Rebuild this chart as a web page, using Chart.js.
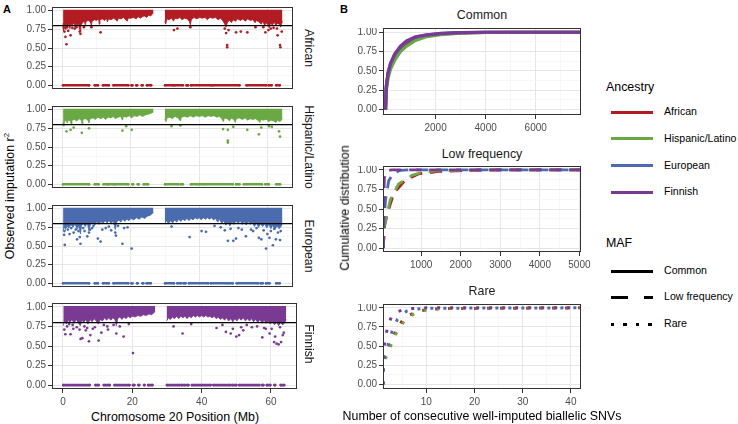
<!DOCTYPE html>
<html>
<head>
<meta charset="utf-8">
<script src="https://cdn.jsdelivr.net/npm/chart.js@4.4.1/dist/chart.umd.min.js"></script>
<style>
body{margin:0;background:#fff;font-family:"Liberation Sans",Arial,sans-serif;}
#fig{position:relative;width:738px;height:424px;overflow:hidden;background:#fff;}
.pan{position:absolute;}
.txt{position:absolute;white-space:nowrap;line-height:1;}
.rot{transform:translate(-50%,-50%) rotate(-90deg);}
.rotr{transform:translate(-50%,-50%) rotate(90deg);}
.ctr{transform:translate(-50%,-50%);}
.key{position:absolute;width:42px;height:3px;}
</style>
</head>
<body>
<div id="fig"></div>
<script>
const ancestries = ['African', 'Hispanic/Latino', 'European', 'Finnish'];
const ancestryColors = ['#B31B23', '#6AA844', '#4A6CAE', '#7A3A94'];
const rsqThreshold = 0.8;

// panel A: lower edge of the dense band of well imputed SNVs (band runs up to r2 = 1)
const africanEdge = [[0.1,0.83],[0.25,0.73],[0.4,0.81],[0.7,0.79],[0.9,0.75],[1.1,0.81],[1.5,0.80],[1.8,0.83],[2.1,0.76],[2.3,0.82],[2.9,0.81],[3.3,0.84],[3.6,0.78],[3.8,0.83],[4.3,0.80],[4.6,0.83],[4.9,0.75],[5.1,0.72],[5.3,0.80],[5.8,0.84],[6.3,0.86],[6.6,0.81],[6.9,0.86],[7.5,0.87],[8.1,0.85],[8.4,0.80],[8.6,0.86],[9.3,0.88],[9.9,0.87],[10.5,0.89],[10.7,0.82],[10.9,0.88],[11.6,0.89],[12.3,0.87],[12.8,0.90],[13.1,0.85],[13.4,0.89],[14.2,0.88],[14.9,0.90],[15.5,0.88],[16.0,0.86],[16.3,0.90],[17.1,0.89],[17.8,0.91],[18.4,0.88],[18.9,0.86],[19.2,0.90],[20.0,0.90],[20.8,0.91],[21.5,0.89],[22.1,0.92],[22.9,0.90],[23.3,0.92],[23.9,0.93],[24.6,0.91],[25.2,0.94],[25.8,0.93],[26.3,0.96],[26.6,0.97],[28,null],
  [29.9,0.86],[30.2,0.82],[30.5,0.89],[31.2,0.88],[31.9,0.90],[32.5,0.86],[32.8,0.90],[33.6,0.89],[34.3,0.91],[35.0,0.88],[35.7,0.90],[36.5,0.89],[37.1,0.86],[37.4,0.81],[37.7,0.88],[38.5,0.91],[39.3,0.89],[40.1,0.91],[40.9,0.90],[41.7,0.91],[42.4,0.88],[43.1,0.91],[44.0,0.90],[44.8,0.91],[45.5,0.88],[46.3,0.90],[47.0,0.86],[47.5,0.82],[47.9,0.78],[48.3,0.85],[48.9,0.87],[49.5,0.84],[49.9,0.88],[50.6,0.86],[51.3,0.89],[52.1,0.87],[52.8,0.89],[53.5,0.86],[54.2,0.89],[55.0,0.87],[55.7,0.88],[56.4,0.84],[56.8,0.87],[57.5,0.85],[58.2,0.82],[58.6,0.86],[59.2,0.80],[59.6,0.84],[60.2,0.81],[60.5,0.77],[60.9,0.83],[61.5,0.81],[62.0,0.85],[62.5,0.80],[62.9,0.83],[63.5,0.82],[63.9,0.78],[64.4,0.86]];
const hispanicEdge = [[0.1,0.83],[0.3,0.78],[0.5,0.84],[1.0,0.86],[1.3,0.82],[1.6,0.86],[2.2,0.85],[2.5,0.80],[2.7,0.86],[3.4,0.87],[4.1,0.85],[4.8,0.88],[5.4,0.86],[5.7,0.80],[5.9,0.87],[6.7,0.88],[7.4,0.86],[7.7,0.82],[8.0,0.88],[8.9,0.89],[9.6,0.87],[10.3,0.90],[11.2,0.88],[11.9,0.90],[12.5,0.87],[13.3,0.90],[14.1,0.89],[14.8,0.91],[15.4,0.88],[16.2,0.90],[17.0,0.91],[17.5,0.86],[17.8,0.91],[18.7,0.90],[19.5,0.92],[20.2,0.89],[20.9,0.92],[21.8,0.91],[22.6,0.93],[23.4,0.91],[24.2,0.93],[25.0,0.94],[25.8,0.95],[26.6,0.97],[28,null],
  [29.9,0.87],[30.3,0.84],[30.6,0.89],[31.4,0.90],[32.1,0.88],[32.9,0.91],[33.8,0.89],[34.5,0.85],[34.8,0.90],[35.7,0.91],[36.6,0.90],[37.4,0.92],[38.3,0.90],[39.1,0.92],[40.0,0.91],[40.9,0.92],[41.8,0.90],[42.6,0.92],[43.5,0.91],[44.3,0.92],[45.1,0.90],[45.9,0.91],[46.6,0.88],[47.1,0.84],[47.4,0.89],[48.2,0.88],[48.9,0.85],[49.3,0.89],[50.1,0.87],[50.6,0.83],[50.9,0.88],[51.8,0.89],[52.6,0.87],[53.5,0.89],[54.2,0.86],[54.9,0.88],[55.7,0.87],[56.5,0.88],[57.2,0.86],[57.8,0.83],[58.1,0.87],[58.9,0.86],[59.7,0.87],[60.4,0.84],[61.0,0.86],[61.8,0.85],[62.5,0.83],[63.0,0.86],[63.7,0.84],[64.4,0.88]];
const europeanEdge = [[0.1,0.70],[0.4,0.76],[0.8,0.72],[1.2,0.78],[1.8,0.74],[2.4,0.79],[3.0,0.75],[3.6,0.80],[4.2,0.72],[4.6,0.78],[5.2,0.66],[5.5,0.77],[6.0,0.80],[6.6,0.76],[7.2,0.81],[7.7,0.70],[8.1,0.79],[8.8,0.82],[9.4,0.78],[10.0,0.83],[10.6,0.79],[11.2,0.83],[11.8,0.80],[12.4,0.84],[13.0,0.81],[13.6,0.84],[14.2,0.80],[14.8,0.84],[15.4,0.72],[15.8,0.82],[16.4,0.85],[17.0,0.82],[17.6,0.86],[18.2,0.83],[18.8,0.86],[19.4,0.84],[20.0,0.87],[20.8,0.85],[21.6,0.88],[22.4,0.86],[23.2,0.89],[24.0,0.87],[24.8,0.90],[25.6,0.91],[26.6,0.95],[28,null],
  [29.9,0.80],[30.4,0.84],[31.0,0.80],[31.6,0.84],[32.2,0.81],[32.8,0.85],[33.4,0.82],[34.0,0.86],[34.6,0.83],[35.2,0.86],[35.8,0.84],[36.4,0.87],[37.0,0.84],[37.6,0.87],[38.2,0.85],[38.8,0.88],[39.4,0.86],[40.0,0.88],[40.6,0.85],[41.2,0.88],[41.8,0.86],[42.4,0.88],[43.0,0.86],[43.6,0.88],[44.2,0.85],[44.8,0.87],[45.4,0.82],[46.0,0.86],[46.6,0.80],[47.2,0.84],[47.8,0.78],[48.4,0.82],[49.0,0.77],[49.6,0.83],[50.2,0.79],[50.8,0.84],[51.4,0.80],[52.0,0.84],[52.6,0.79],[53.2,0.83],[53.8,0.78],[54.4,0.83],[55.0,0.79],[55.6,0.82],[56.2,0.76],[56.8,0.81],[57.4,0.75],[58.0,0.80],[58.6,0.76],[59.2,0.80],[59.8,0.74],[60.4,0.79],[61.0,0.73],[61.6,0.78],[62.2,0.72],[62.8,0.77],[63.4,0.73],[64.0,0.76],[64.4,0.80]];
const finnishEdge = [[0.1,0.76],[0.5,0.82],[1.0,0.78],[1.5,0.83],[2.0,0.80],[2.6,0.84],[3.2,0.79],[3.8,0.84],[4.4,0.80],[5.0,0.76],[5.5,0.83],[6.0,0.80],[6.6,0.84],[7.2,0.78],[7.8,0.84],[8.4,0.81],[9.0,0.85],[9.6,0.82],[10.2,0.78],[10.8,0.84],[11.4,0.82],[12.0,0.86],[12.6,0.83],[13.2,0.86],[13.8,0.83],[14.4,0.86],[15.0,0.84],[15.4,0.76],[15.8,0.85],[16.4,0.87],[17.0,0.84],[17.6,0.87],[18.2,0.85],[18.8,0.88],[19.4,0.86],[20.0,0.88],[20.8,0.87],[21.6,0.89],[22.4,0.88],[23.2,0.90],[24.0,0.89],[24.8,0.91],[25.6,0.90],[26.6,0.94],[28,null],
  [29.9,0.82],[30.4,0.86],[31.0,0.84],[31.6,0.87],[32.2,0.85],[32.8,0.88],[33.4,0.85],[34.0,0.88],[34.6,0.86],[35.2,0.88],[35.8,0.85],[36.4,0.88],[37.0,0.86],[37.6,0.89],[38.2,0.87],[38.8,0.89],[39.4,0.87],[40.0,0.89],[40.6,0.87],[41.2,0.89],[41.8,0.87],[42.4,0.88],[43.0,0.86],[43.6,0.88],[44.2,0.85],[44.8,0.87],[45.4,0.84],[46.0,0.86],[46.6,0.83],[47.2,0.86],[47.8,0.82],[48.4,0.85],[49.0,0.81],[49.6,0.85],[50.2,0.82],[50.8,0.86],[51.4,0.83],[52.0,0.86],[52.6,0.82],[53.2,0.85],[53.8,0.82],[54.4,0.85],[55.0,0.81],[55.6,0.84],[56.2,0.80],[56.8,0.84],[57.4,0.79],[58.0,0.83],[58.6,0.79],[59.2,0.82],[59.8,0.78],[60.4,0.82],[61.0,0.77],[61.6,0.81],[62.2,0.76],[62.8,0.80],[63.4,0.77],[64.0,0.80],[64.4,0.84]];

// panel A: SNVs imputed well below the band (position Mb, r2)
const africanLow = [[0.3,0.77],[0.5,0.72],[0.8,0.65],[1.1,0.55],[1.3,0.78],[1.6,0.73],[2.3,0.67],[2.8,0.77],[3.5,0.76],[4.0,0.78],[5.2,0.69],[5.0,0.72],[6.2,0.78],[8.4,0.78],[11.1,0.71],[32.6,0.74],[33.6,0.76],[37.4,0.78],[47.5,0.76],[47.9,0.70],[48.2,0.54],[48.2,0.51],[48.6,0.74],[50.8,0.71],[52.2,0.72],[54.1,0.71],[56.5,0.78],[58.8,0.78],[59.4,0.71],[60.3,0.74],[61.0,0.76],[61.8,0.77],[62.8,0.76],[63.0,0.67],[63.7,0.54],[63.8,0.51],[64.2,0.72]];
const hispanicLow = [[1.1,0.71],[2.3,0.73],[3.2,0.76],[5.6,0.69],[7.7,0.75],[17.5,0.72],[20.2,0.73],[18.6,0.78],[47.0,0.74],[48.4,0.73],[48.4,0.585],[48.4,0.56],[50.0,0.77],[54.1,0.73],[57.5,0.67],[58.2,0.76],[60.5,0.78],[61.3,0.77],[63.4,0.71],[63.7,0.64],[31.9,0.78],[34.5,0.79]];
const europeanLow = [[0.4,0.65],[0.6,0.515],[0.5,0.70],[1.0,0.76],[1.5,0.72],[2.0,0.66],[2.5,0.74],[3.2,0.68],[3.8,0.72],[4.2,0.59],[4.6,0.70],[5.2,0.53],[5.0,0.62],[6.0,0.74],[6.4,0.70],[7.2,0.63],[7.7,0.68],[8.0,0.72],[8.6,0.74],[9.0,0.77],[10.3,0.60],[11.1,0.56],[11.6,0.72],[12.6,0.74],[13.5,0.76],[14.2,0.71],[15.4,0.68],[15.6,0.64],[16.2,0.77],[17.5,0.53],[18.0,0.74],[19.0,0.75],[20.2,0.465],[31.9,0.76],[37.2,0.62],[40.7,0.70],[42.0,0.69],[44.5,0.77],[46.3,0.75],[47.5,0.71],[48.4,0.57],[49.2,0.73],[50.0,0.57],[50.8,0.60],[51.5,0.74],[52.5,0.72],[53.7,0.63],[55.2,0.72],[55.8,0.70],[56.8,0.74],[57.5,0.61],[58.2,0.59],[58.9,0.71],[59.6,0.465],[60.0,0.66],[60.6,0.61],[61.0,0.70],[61.6,0.51],[62.0,0.73],[62.5,0.59],[63.1,0.68],[63.7,0.58],[63.9,0.70]];
const finnishLow = [[0.4,0.71],[0.7,0.65],[1.2,0.75],[1.8,0.78],[2.2,0.65],[2.8,0.77],[3.0,0.72],[4.0,0.74],[4.8,0.71],[5.1,0.59],[5.6,0.60],[6.2,0.75],[6.6,0.70],[7.0,0.73],[7.5,0.56],[7.9,0.64],[8.6,0.72],[9.2,0.74],[10.3,0.57],[11.1,0.67],[11.8,0.77],[12.8,0.75],[13.0,0.71],[14.6,0.77],[15.4,0.66],[16.4,0.75],[17.5,0.62],[19.0,0.78],[20.2,0.41],[31.9,0.75],[34.5,0.66],[37.0,0.78],[44.3,0.73],[46.0,0.77],[47.0,0.68],[48.4,0.66],[49.0,0.72],[50.0,0.62],[50.8,0.64],[51.4,0.74],[52.0,0.70],[53.0,0.77],[54.5,0.74],[56.0,0.75],[57.5,0.61],[58.0,0.73],[58.5,0.72],[59.6,0.66],[60.2,0.72],[60.9,0.55],[61.2,0.62],[61.6,0.53],[62.2,0.52],[62.6,0.74],[62.9,0.55],[63.4,0.64],[63.7,0.67]];

// panel A: runs of SNVs with r2 = 0 (start Mb, end Mb)
const africanZero = [[0.1,7.7],[9.4,10.3],[11.8,13.5],[14.9,19.2],[20.2,20.4],[21.6,21.8],[23.2,23.4],[24.7,25.9],[30.0,32.3],[32.8,35.2],[36.3,36.7],[37.6,43.5],[44.0,51.8],[53.9,59.6],[60.4,61.2],[62.6,63.6]];
const hispanicZero = [[0.1,7.7],[9.4,10.5],[12.0,13.0],[13.4,14.9],[15.4,19.2],[20.4,20.6],[22.0,22.2],[23.8,25.0],[30.0,33.8],[34.6,35.2],[37.6,39.4],[40.0,41.0],[41.6,49.8],[50.8,51.8],[53.1,58.4],[59.4,60.4],[62.6,63.7]];
const europeanZero = [[0.1,7.7],[9.4,10.3],[11.8,13.5],[14.9,19.2],[20.2,20.4],[21.8,22.0],[23.4,23.6],[24.6,25.8],[30.0,32.6],[33.6,34.6],[35.4,36.0],[37.0,42.6],[43.4,48.0],[48.6,49.8],[51.0,57.2],[58.0,58.6],[59.6,60.6],[62.6,63.6]];
const finnishZero = [[0.1,7.7],[9.4,10.3],[11.8,13.5],[14.9,19.2],[20.2,20.6],[21.8,22.0],[23.4,23.6],[24.6,25.8],[30.0,33.6],[34.2,35.2],[35.8,36.2],[37.2,42.6],[43.4,48.2],[48.8,50.0],[50.8,56.6],[57.4,57.8],[58.8,59.8],[61.0,61.2],[62.8,63.8]];

// panel B: cumulative distribution of run lengths
const commonAfr = [[1,0],[30,0.27],[100,0.44],[200,0.56],[370,0.68],[600,0.78],[840,0.86],[1200,0.92],[1600,0.955],[2200,0.978],[3000,0.992],[4000,0.998],[7810,1]];
const commonHis = [[1,0],[30,0.24],[100,0.40],[200,0.52],[370,0.64],[600,0.75],[840,0.82],[1200,0.895],[1600,0.94],[2200,0.97],[3000,0.988],[4000,0.997],[5000,1],[7810,1]];
const commonEur = [[1,0],[30,0.29],[100,0.47],[200,0.59],[370,0.71],[600,0.81],[840,0.88],[1200,0.935],[1600,0.962],[2200,0.983],[3000,0.994],[4000,1],[7810,1]];
const commonFin = [[1,0],[30,0.30],[100,0.48],[200,0.60],[370,0.72],[600,0.82],[840,0.89],[1200,0.94],[1600,0.965],[2200,0.985],[3000,0.995],[4000,1],[7810,1]];
const lowAfr = [[40,0],[80,0.30],[150,0.45],[305,0.70],[600,0.87],[940,0.95],[1450,0.98],[2200,0.995],[3000,1],[5040,1]];
const lowHis = [[40,0],[70,0.28],[130,0.42],[220,0.62],[430,0.82],[770,0.93],[1070,0.975],[1500,0.99],[2500,1],[5040,1]];
const lowEur = [[40,0],[60,0.35],[100,0.62],[180,0.86],[300,0.96],[475,0.995],[700,1],[5040,1]];
const lowFin = [[40,0],[50,0.55],[70,0.90],[100,0.96],[150,0.99],[250,1],[5040,1]];
const rareAfr = [[1,0],[1.01,0.30],[2,0.45],[3,0.60],[4,0.74],[5,0.83],[6,0.89],[8,0.95],[10,0.975],[13,0.99],[42,1]];
const rareHis = [[1,0],[1.01,0.28],[2,0.40],[3,0.57],[4,0.70],[5,0.79],[6,0.87],[8,0.94],[10,0.97],[13,0.99],[42,1]];
const rareEur = [[1,0],[1.01,0.30],[2,0.50],[3,0.72],[4,0.85],[5,0.92],[6,0.96],[8,0.985],[10,0.995],[42,1]];
const rareFin = [[1,0],[1.01,0.40],[2,0.78],[3,0.91],[4,0.95],[5,0.97],[7,0.99],[10,1],[42,1]];

const yMajor = [0, 0.25, 0.5, 0.75, 1];
const yAll = [0, 0.125, 0.25, 0.375, 0.5, 0.625, 0.75, 0.875, 1];

const fig = document.getElementById('fig');
const pts = arr => arr.map(p => ({x: p[0], y: p[1]}));
const runsToLine = runs => {
    const out = [];
    runs.forEach(r => out.push({x: r[0], y: 0}, {x: r[1], y: 0}, {x: r[1], y: null}));
    return out;
};

const boxPlugin = {
    id: 'box',
    afterDatasetsDraw(chart) {
        const a = chart.chartArea, c = chart.ctx;
        c.save();
        c.strokeStyle = '#333333';
        c.lineWidth = 1;
        c.strokeRect(Math.round(a.left) + 0.5, Math.round(a.top) + 0.5, Math.round(a.right - a.left) - 1, Math.round(a.bottom - a.top) - 1);
        c.restore();
    }
};

const gridFor = (majors, showTicks) => {
    const isMajor = v => majors.some(m => Math.abs(m - v) < 1e-9);
    return {
        color: c => (c.tick && isMajor(c.tick.value)) ? '#E6E6E6' : '#F4F4F4',
        lineWidth: c => (c.tick && isMajor(c.tick.value)) ? 1 : 0.7,
        tickColor: c => (c.tick && isMajor(c.tick.value)) ? '#333333' : 'rgba(0,0,0,0)',
        tickWidth: 1,
        tickLength: 4,
        drawTicks: showTicks
    };
};

const tickFont = {family: '"Liberation Sans", Arial, sans-serif', size: 10};

const makePanel = o => {
    const yw = 34, xh = o.showX ? 20 : 0, extra = o.showX ? 14 : 0;
    const w = yw + o.w + extra, h = o.h + xh;
    const div = document.createElement('div');
    div.className = 'pan';
    div.style.left = (o.left - yw) + 'px';
    div.style.top = o.top + 'px';
    const cv = document.createElement('canvas');
    cv.width = w; cv.height = h;
    cv.style.width = w + 'px'; cv.style.height = h + 'px';
    div.appendChild(cv);
    fig.appendChild(div);
    const xMajorSet = v => o.xMajor.some(m => Math.abs(m - v) < 1e-9);
    return new Chart(cv, {
        type: 'line',
        data: {datasets: o.datasets},
        options: {
            responsive: false,
            animation: false,
            devicePixelRatio: 1,
            events: [],
            layout: {padding: {left: 0, top: 0, bottom: 0, right: extra}},
            plugins: {legend: {display: false}, tooltip: {enabled: false}},
            scales: {
                x: {
                    type: 'linear', min: o.xMin, max: o.xMax,
                    afterBuildTicks: s => { s.ticks = o.xAll.map(v => ({value: v})); },
                    afterFit: s => { s.height = xh; s.paddingLeft = 0; s.paddingRight = 0; },
                    ticks: {display: o.showX, autoSkip: false, maxRotation: 0, padding: 3, color: '#4D4D4D', font: tickFont,
                        callback: v => xMajorSet(v) ? String(v) : ''},
                    grid: gridFor(o.xMajor, o.showX),
                    border: {display: false}
                },
                y: {
                    type: 'linear', min: o.yMin, max: o.yMax,
                    afterBuildTicks: s => { s.ticks = yAll.map(v => ({value: v})); },
                    afterFit: s => { s.width = yw; s.paddingTop = 0; s.paddingBottom = 0; },
                    ticks: {autoSkip: false, padding: 2, color: '#4D4D4D', font: tickFont,
                        callback: v => yMajor.some(m => Math.abs(m - v) < 1e-9) ? v.toFixed(2) : ''},
                    grid: gridFor(yMajor, true),
                    border: {display: false}
                }
            }
        },
        plugins: [boxPlugin]
    });
};

// ---- panel A ----
const aEdges = [africanEdge, hispanicEdge, europeanEdge, finnishEdge];
const aLows = [africanLow, hispanicLow, europeanLow, finnishLow];
const aZeros = [africanZero, hispanicZero, europeanZero, finnishZero];
const aTops = [3, 102, 201, 299];

ancestries.forEach((name, i) => {
    const col = ancestryColors[i];
    makePanel({
        left: 52, top: aTops[i], w: 245, h: 90, showX: i === 3,
        xMin: -3.15, xMax: 67.5, xMajor: [0, 20, 40, 60], xAll: [0, 10, 20, 30, 40, 50, 60],
        yMin: -0.05, yMax: 1.05,
        datasets: [
            {data: pts([[-5, rsqThreshold], [70, rsqThreshold]]), borderColor: '#000', borderWidth: 1.2, pointRadius: 0},
            {data: runsToLine(aZeros[i]), borderColor: col, borderWidth: 2.6, borderCapStyle: 'round',
                pointRadius: 1.3, pointBackgroundColor: col, pointBorderWidth: 0},
            {data: pts(aLows[i]), showLine: false, pointRadius: 1.35, pointBackgroundColor: col, pointBorderWidth: 0},
            {data: pts(aEdges[i]), borderColor: col, borderWidth: 0.8, pointRadius: 0,
                fill: {value: 1.012}, backgroundColor: col}
        ]
    });
    const s = document.createElement('div');
    s.className = 'txt rotr';
    s.style.cssText += 'left:309px;top:' + (aTops[i] + 45) + 'px;font-size:12.2px;color:#1A1A1A;';
    s.textContent = name;
    fig.appendChild(s);
});

// ---- panel B ----
const bSets = [
    {title: 'Common', top: 28, h: 87, yMin: -0.07, yMax: 1.055, xMin: -100, xMax: 7810,
        xMajor: [2000, 4000, 6000], xAll: [1000, 2000, 3000, 4000, 5000, 6000, 7000],
        series: [commonAfr, commonHis, commonEur, commonFin], dash: [], lw: 3.2, titleY: 15},
    {title: 'Low frequency', top: 166, h: 86, yMin: -0.05, yMax: 1.05, xMin: 35, xMax: 5040,
        xMajor: [1000, 2000, 3000, 4000, 5000], xAll: [500, 1000, 1500, 2000, 2500, 3000, 3500, 4000, 4500, 5000],
        series: [lowAfr, lowHis, lowEur, lowFin], dash: [12, 8], lw: 2.8, titleY: 154},
    {title: 'Rare', top: 304, h: 85, yMin: -0.06, yMax: 1.05, xMin: 1, xMax: 42.1,
        xMajor: [10, 20, 30, 40], xAll: [5, 10, 15, 20, 25, 30, 35, 40],
        series: [rareAfr, rareHis, rareEur, rareFin], dash: [3, 10], lw: 3, titleY: 291}
];

bSets.forEach(b => {
    const ds = [];
    for (let i = ancestries.length - 1; i >= 0; i--) {
        ds.push({data: pts(b.series[i]), borderColor: ancestryColors[i], borderWidth: b.lw, borderDash: b.dash,
            borderCapStyle: 'butt', pointRadius: 0, tension: 0});
    }
    makePanel({left: 383, top: b.top, w: 198, h: b.h, showX: true,
        xMin: b.xMin, xMax: b.xMax, xMajor: b.xMajor, xAll: b.xAll, yMin: b.yMin, yMax: b.yMax, datasets: ds});
    const t = document.createElement('div');
    t.className = 'txt ctr';
    t.style.cssText += 'left:482px;top:' + b.titleY + 'px;font-size:12.4px;color:#1A1A1A;';
    t.textContent = b.title;
    fig.appendChild(t);
});

// ---- labels & legends ----
const addText = (html, css, cls) => {
    const d = document.createElement('div');
    d.className = 'txt ' + (cls || '');
    d.style.cssText += css;
    d.innerHTML = html;
    fig.appendChild(d);
};
addText('A', 'left:3px;top:4px;font-size:11px;font-weight:bold;');
addText('B', 'left:340px;top:4px;font-size:11px;font-weight:bold;');
addText('Observed imputation r<sup style="font-size:8px;vertical-align:5px;line-height:0">2</sup>', 'left:10px;top:196px;font-size:12.4px;', 'rot');
addText('Chromosome 20 Position (Mb)', 'left:175px;top:417px;font-size:12.4px;', 'ctr');
addText('Cumulative distribution', 'left:345px;top:208px;font-size:12.4px;', 'rot');
addText('Number of consecutive well-imputed biallelic SNVs', 'left:482px;top:416px;font-size:12.4px;', 'ctr');

addText('Ancestry', 'left:606px;top:81px;font-size:12.4px;');
const legY = [112, 138.5, 165.5, 192];
ancestries.forEach((name, i) => {
    const k = document.createElement('div');
    k.className = 'key';
    k.style.cssText += 'left:611px;top:' + (legY[i] - 1.5) + 'px;background:' + ancestryColors[i] + ';';
    fig.appendChild(k);
    addText(name, 'left:664px;top:' + (legY[i] - 6) + 'px;font-size:10.6px;');
});

addText('MAF', 'left:606px;top:237px;font-size:12.4px;');
const mafNames = ['Common', 'Low frequency', 'Rare'];
const mafKeys = [
    '#000',
    'linear-gradient(90deg,#000 0 17.5px,transparent 17.5px 33px,#000 33px 42px)',
    'repeating-linear-gradient(90deg,#000 0 3.3px,transparent 3.3px 12.5px)'
];
const mafY = [271, 297, 324];
mafNames.forEach((name, i) => {
    const k = document.createElement('div');
    k.className = 'key';
    k.style.cssText += 'left:611px;top:' + (mafY[i] - 1.5) + 'px;background:' + mafKeys[i] + ';height:' + (i === 2 ? 3.3 : 3) + 'px;';
    fig.appendChild(k);
    addText(name, 'left:664px;top:' + (mafY[i] - 6) + 'px;font-size:10.6px;');
});
</script>
</body>
</html>
